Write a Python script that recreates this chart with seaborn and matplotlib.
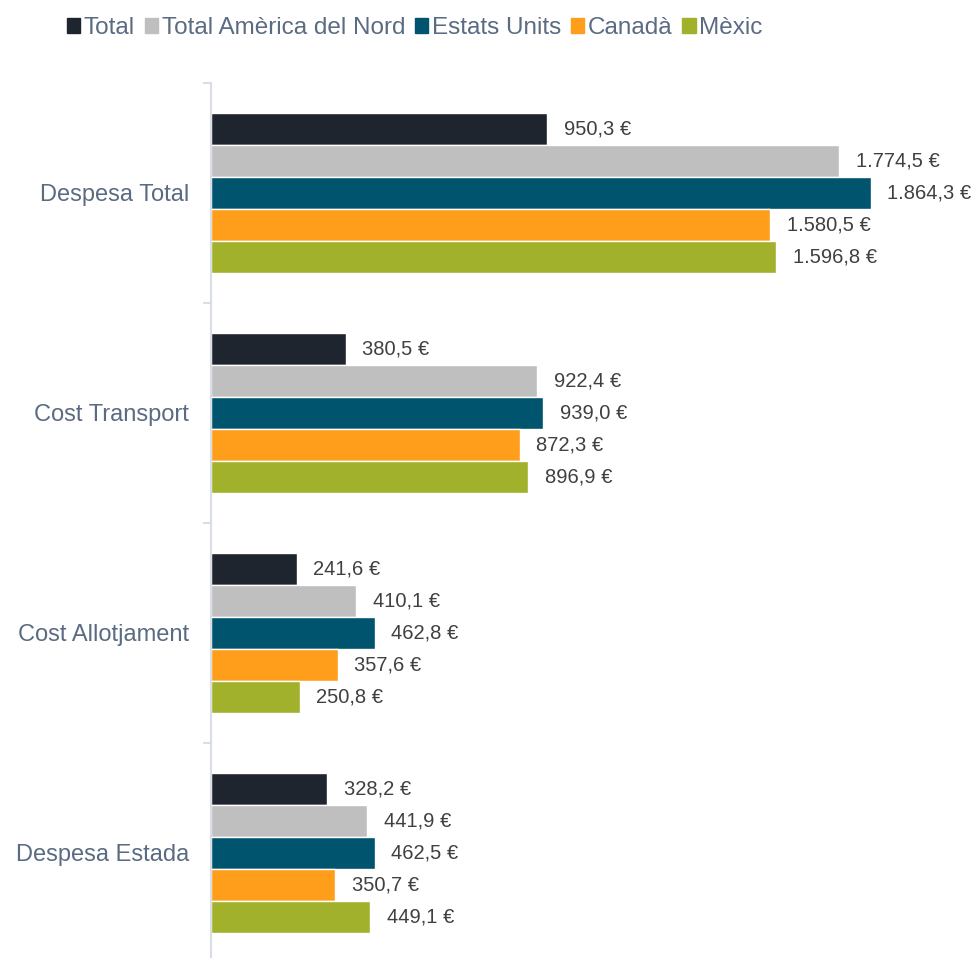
import pandas as pd
import seaborn as sns
import matplotlib.pyplot as plt
from matplotlib.patches import Patch
from matplotlib.ticker import FixedLocator

# dades
categories = ['Despesa Total', 'Cost Transport', 'Cost Allotjament', 'Despesa Estada']
series = ['Total', 'Total Amèrica del Nord', 'Estats Units', 'Canadà', 'Mèxic']
total = [950.3, 380.5, 241.6, 328.2]
total_america = [1774.5, 922.4, 410.1, 441.9]
estats_units = [1864.3, 939.0, 462.8, 462.5]
canada = [1580.5, 872.3, 357.6, 350.7]
mexic = [1596.8, 896.9, 250.8, 449.1]
colors = ['#1f252e', '#bfbfbf', '#00546e', '#ff9e1b', '#a2b12c']

values = [total, total_america, estats_units, canada, mexic]
rows = []
for s, vals in zip(series, values):
    for c, v in zip(categories, vals):
        rows.append({'categoria': c, 'serie': s, 'valor': v})
df = pd.DataFrame(rows)

def fmt(v):
    t = f'{v:,.1f}'
    return t.replace(',', 'X').replace('.', ',').replace('X', '.') + ' €'

sns.set_style('white')
plt.rcParams['font.family'] = ['Liberation Sans', 'DejaVu Sans']

fig = plt.figure(figsize=(9.79, 9.58), dpi=100)
ax = fig.add_axes([211 / 979, -0.005, 768 / 979, 0.9186])

sns.barplot(data=df, y='categoria', x='valor', hue='serie', order=categories,
            hue_order=series, palette=colors, orient='h', width=0.727,
            saturation=1, legend=False, ax=ax)

for cont in ax.containers:
    ax.bar_label(cont, labels=[fmt(b.get_width()) for b in cont],
                 padding=12, fontsize=14.5, color='#404040')

ax.set_xlim(0, 2170)
ax.set_ylim(3.5, -0.5)
ax.set_xlabel('')
ax.set_ylabel('')
ax.set_xticks([])
ax.tick_params(axis='y', which='major', left=False, length=0, pad=16, labelsize=17,
               labelcolor='#5a6b82')
ax.yaxis.set_minor_locator(FixedLocator([-0.5, 0.5, 1.5, 2.5, 3.5]))
ax.tick_params(axis='y', which='minor', left=True, length=6, width=1.5, color='#d9dee6')
for side in ['top', 'right', 'bottom']:
    ax.spines[side].set_visible(False)
ax.spines['left'].set_color('#d9dee6')
ax.spines['left'].set_linewidth(1.5)

handles = [Patch(color=c, label=s) for s, c in zip(series, colors)]
fig.legend(handles=handles, loc='upper left', bbox_to_anchor=(0.051, 1.0), ncol=5,
           frameon=False, fontsize=17.5, handlelength=0.55, handleheight=0.55,
           handletextpad=0.15, columnspacing=0.4, borderpad=0.2,
           labelcolor='#5a6b82')

fig.savefig('out.png', dpi=100)
